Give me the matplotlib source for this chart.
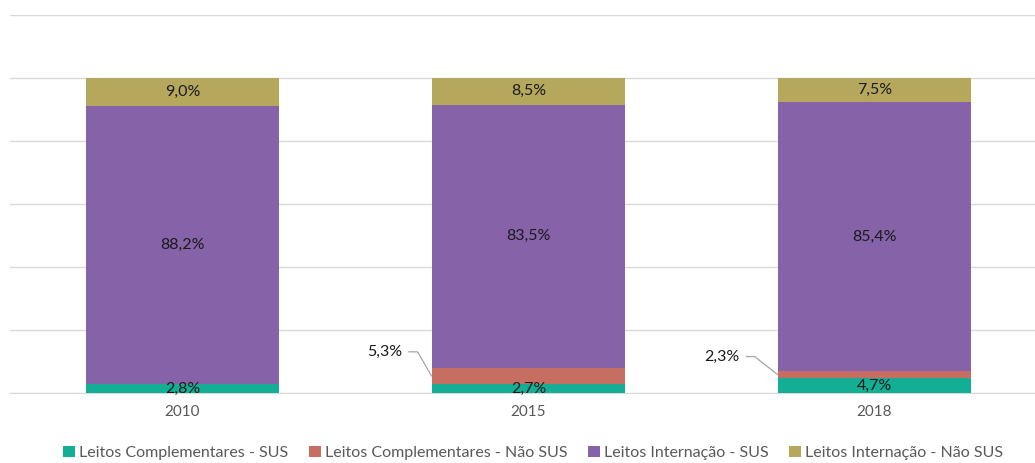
import matplotlib
matplotlib.use("Agg")
import matplotlib.pyplot as plt
import numpy as np

years = ["2010", "2015", "2018"]
series = ["Leitos Complementares - SUS", "Leitos Complementares - Não SUS",
          "Leitos Internação - SUS", "Leitos Internação - Não SUS"]
comp_sus = [2.8, 2.7, 4.7]
comp_nao_sus = [0.0, 5.3, 2.3]
int_sus = [88.2, 83.5, 85.4]
int_nao_sus = [9.0, 8.5, 7.5]
colors = ["#13AE94", "#C66E61", "#8662A8", "#B5A85C"]

# leader-line label styling for the thin "Não SUS" segments (offsets in points)
leader_offsets = [(0, 0), (-21.5, 17.5), (-27.5, 13)]
leader_angles = [-60, -60, -38]

plt.rcParams['font.family'] = ['Lato', 'DejaVu Sans']

fig = plt.figure(figsize=(10.35, 4.63), dpi=100)
ax = fig.add_axes([9.5/1035, 70/463, 1 - 9.5/1035, 378/463])

x = np.arange(len(years))
data = [comp_sus, comp_nao_sus, int_sus, int_nao_sus]
bottom = np.zeros(len(years))
width = 0.56
for vals, col, name in zip(data, colors, series):
    vals = np.array(vals)
    ax.bar(x, vals, width, bottom=bottom, color=col, label=name, zorder=3)
    for i, v in enumerate(vals):
        if v <= 0:
            continue
        yc = bottom[i] + v / 2
        txt = f"{v:.1f}%".replace(".", ",")
        if name == "Leitos Complementares - Não SUS":
            ax.annotate(txt, xy=(x[i] - width / 2, yc), xytext=leader_offsets[i],
                        textcoords="offset points", ha="right", va="center",
                        fontsize=11.5, color="#1a1a1a",
                        arrowprops=dict(arrowstyle="-", color="#A6A6A6", lw=0.9,
                                        connectionstyle=f"angle,angleA=0,angleB={leader_angles[i]},rad=0",
                                        shrinkA=3, shrinkB=0))
        else:
            ax.text(x[i], yc, txt, ha="center", va="center", fontsize=11.5,
                    color="#1a1a1a", zorder=4)
    bottom += vals

ax.set_ylim(0, 120)
ax.set_xlim(-0.5, (1035 - 182.5) / 346)
ax.set_yticks(np.arange(0, 121, 20))
ax.yaxis.grid(True, color="#D9D9D9", lw=1, zorder=0)
ax.set_yticklabels([])
ax.tick_params(axis="y", length=0)
ax.set_xticks(x)
ax.set_xticklabels(years, fontsize=11, color="#595959")
ax.tick_params(axis="x", length=0, pad=9)
for s in ["top", "right", "left"]:
    ax.spines[s].set_visible(False)
ax.spines["bottom"].set_color("#D9D9D9")

handles, labels = ax.get_legend_handles_labels()
fig.legend(handles, labels, loc="lower center", bbox_to_anchor=(0.515, -0.025), ncol=4,
           frameon=False, fontsize=11.5, handlelength=0.75, handleheight=0.75,
           handletextpad=0.25, columnspacing=1.3, labelcolor="#595959")

fig.savefig("out.png", dpi=100)
